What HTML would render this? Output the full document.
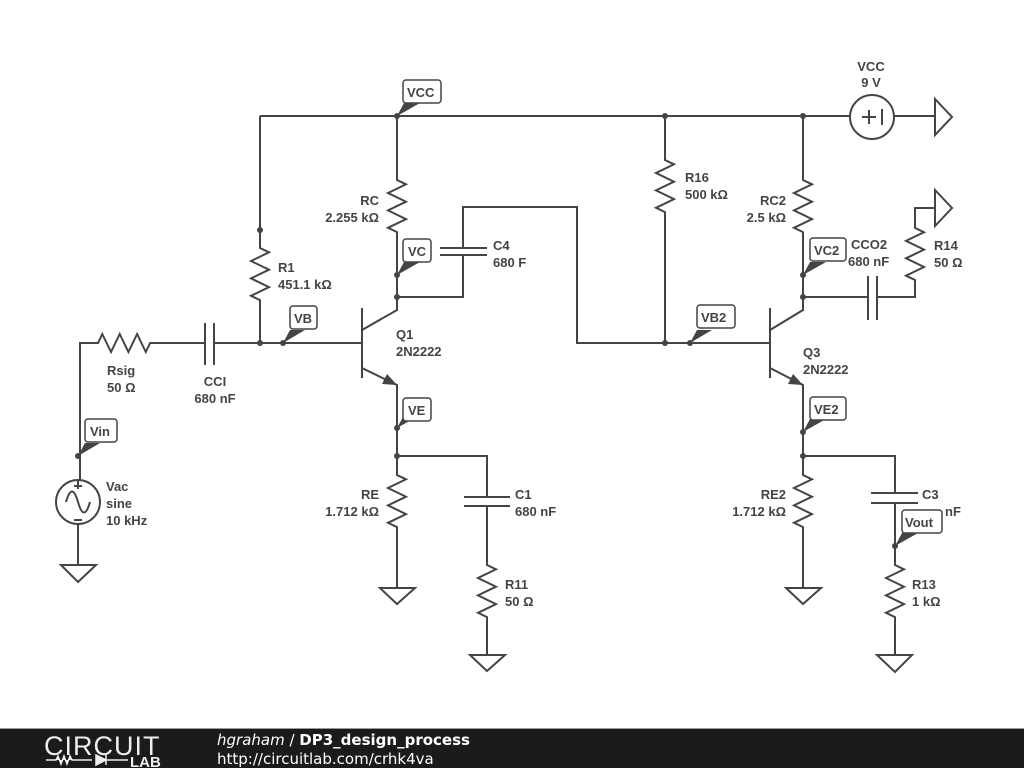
<!DOCTYPE html>
<html><head><meta charset="utf-8"><style>
html,body{margin:0;padding:0;background:#fff;width:1024px;height:768px;overflow:hidden}
svg{display:block}
text{font-family:"Liberation Sans",sans-serif;font-weight:bold;font-size:13px;fill:#444}
</style></head><body>
<svg width="1024" height="768" viewBox="0 0 1024 768">
<g fill="none" stroke="#444" stroke-width="2">
<path d="M260 116 H850 M894 116 H935"/>
<circle cx="872" cy="117" r="22"/>
<path d="M862 117 h14 M869 110 v14 M882 109 v16"/>
<path d="M935 99 L952 117 L935 135 Z"/>
<path d="M260 116 V248 l9 4.3 l-18 8.7 l18 8.7 l-18 8.7 l18 8.7 l-18 8.7 l9 4.3 V343"/>
<path d="M80 480 V343 H98 l4.3 -9 l8.7 18 l8.7 -18 l8.7 18 l8.7 -18 l8.7 18 l4.3 -9 H205 M214 343 H362"/>
<path d="M205 323 V365 M214 323 V365"/>
<circle cx="78" cy="502" r="22"/>
<path d="M66 502 c4 -14 8 -14 12 0 c4 14 8 14 12 0 M78 489 v-8 M74 486 h8 M74 520 h8"/>
<path d="M78 524 V565 M61 565 H96 L78 582 Z"/>
<path d="M397 116 V180 l9 4.3 l-18 8.7 l18 8.7 l-18 8.7 l18 8.7 l-18 8.7 l9 4.3 V310 L362 330"/>
<path d="M362 308 V378 M362 368 L397 385 V475 l9 4.3 l-18 8.7 l18 8.7 l-18 8.7 l18 8.7 l-18 8.7 l9 4.3 V588"/>
<path d="M380 588 H415 L397 604 Z"/>
<path d="M397 297 H463 V255 M463 248 V207 H577 V343 H770"/>
<path d="M440 248 H487 M440 255 H487"/>
<path d="M397 456 H487 V497 M487 506 V565 l9 4.3 l-18 8.7 l18 8.7 l-18 8.7 l18 8.7 l-18 8.7 l9 4.3 V655"/>
<path d="M464 497 H510 M464 506 H510"/>
<path d="M470 655 H505 L487 671 Z"/>
<path d="M665 116 V160 l9 4.3 l-18 8.7 l18 8.7 l-18 8.7 l18 8.7 l-18 8.7 l9 4.3 V343"/>
<path d="M803 116 V180 l9 4.3 l-18 8.7 l18 8.7 l-18 8.7 l18 8.7 l-18 8.7 l9 4.3 V310 L770 330"/>
<path d="M770 308 V378 M770 368 L803 385 V475 l9 4.3 l-18 8.7 l18 8.7 l-18 8.7 l18 8.7 l-18 8.7 l9 4.3 V588"/>
<path d="M786 588 H821 L803 604 Z"/>
<path d="M803 297 H868 M877 297 H915 V280 l-9 -4.3 l18 -8.7 l-18 -8.7 l18 -8.7 l-18 -8.7 l18 -8.7 l-9 -4.3 V208 H935"/>
<path d="M868 276 V320 M877 276 V320"/>
<path d="M935 190 L952 208 L935 226 Z"/>
<path d="M803 456 H895 V493 M895 503 V565 l9 4.3 l-18 8.7 l18 8.7 l-18 8.7 l18 8.7 l-18 8.7 l9 4.3 V655"/>
<path d="M871 493 H918 M871 503 H918"/>
<path d="M877 655 H912 L895 672 Z"/>
</g>
<path d="M397 385 L382 384 L387 374 Z" fill="#444"/>
<path d="M803 385 L788 384 L793 374 Z" fill="#444"/>
<g fill="#444">
<circle cx="397" cy="116" r="3"/><circle cx="665" cy="116" r="3"/><circle cx="803" cy="116" r="3"/>
<circle cx="260" cy="230" r="3"/><circle cx="260" cy="343" r="3"/><circle cx="283" cy="343" r="3"/>
<circle cx="397" cy="275" r="3"/><circle cx="397" cy="297" r="3"/><circle cx="397" cy="428" r="3"/><circle cx="397" cy="456" r="3"/>
<circle cx="665" cy="343" r="3"/><circle cx="690" cy="343" r="3"/>
<circle cx="803" cy="275" r="3"/><circle cx="803" cy="297" r="3"/><circle cx="803" cy="432" r="3"/><circle cx="803" cy="456" r="3"/>
<circle cx="78" cy="456" r="3"/><circle cx="895" cy="546" r="3"/>
</g>
<g fill="#444">
<path d="M397 116 L404 103 L420 103 Z"/>
<path d="M283 343 L290 330 L305 330 Z"/>
<path d="M397 275 L404 262 L420 262 Z"/>
<path d="M397 428 L404 415 L420 415 Z"/>
<path d="M78 456 L85 443 L100 443 Z"/>
<path d="M690 343 L697 330 L712 330 Z"/>
<path d="M803 275 L810 262 L826 262 Z"/>
<path d="M803 432 L810 419 L826 419 Z"/>
<path d="M895 546 L902 533 L918 533 Z"/>
</g>
<g fill="#fff" stroke="#444" stroke-width="1.5">
<rect x="403" y="80" width="38" height="23" rx="3"/>
<rect x="290" y="306" width="27" height="23" rx="3"/>
<rect x="403" y="239" width="28" height="23" rx="3"/>
<rect x="403" y="398" width="28" height="23" rx="3"/>
<rect x="85" y="419" width="32" height="23" rx="3"/>
<rect x="697" y="305" width="38" height="23" rx="3"/>
<rect x="810" y="238" width="36" height="23" rx="3"/>
<rect x="810" y="397" width="36" height="23" rx="3"/>
<rect x="902" y="510" width="40" height="23" rx="3"/>
</g>
<g>
<text x="407" y="97">VCC</text><text x="294" y="323">VB</text><text x="408" y="256">VC</text>
<text x="408" y="415">VE</text><text x="90" y="436">Vin</text><text x="701" y="322">VB2</text>
<text x="814" y="255">VC2</text><text x="814" y="414">VE2</text><text x="905" y="527">Vout</text>
<text x="871" y="71" text-anchor="middle">VCC</text><text x="871" y="87" text-anchor="middle">9 V</text>
<text x="379" y="205" text-anchor="end">RC</text><text x="379" y="222" text-anchor="end">2.255 kΩ</text>
<text x="278" y="272">R1</text><text x="278" y="289">451.1 kΩ</text>
<text x="493" y="250">C4</text><text x="493" y="267">680 F</text>
<text x="396" y="339">Q1</text><text x="396" y="356">2N2222</text>
<text x="107" y="375">Rsig</text><text x="107" y="392">50 Ω</text>
<text x="215" y="386" text-anchor="middle">CCI</text><text x="215" y="403" text-anchor="middle">680 nF</text>
<text x="106" y="491">Vac</text><text x="106" y="508">sine</text><text x="106" y="525">10 kHz</text>
<text x="379" y="499" text-anchor="end">RE</text><text x="379" y="516" text-anchor="end">1.712 kΩ</text>
<text x="515" y="499">C1</text><text x="515" y="516">680 nF</text>
<text x="505" y="589">R11</text><text x="505" y="606">50 Ω</text>
<text x="685" y="182">R16</text><text x="685" y="199">500 kΩ</text>
<text x="786" y="205" text-anchor="end">RC2</text><text x="786" y="222" text-anchor="end">2.5 kΩ</text>
<text x="851" y="249">CCO2</text><text x="848" y="266">680 nF</text>
<text x="934" y="250">R14</text><text x="934" y="267">50 Ω</text>
<text x="803" y="357">Q3</text><text x="803" y="374">2N2222</text>
<text x="786" y="499" text-anchor="end">RE2</text><text x="786" y="516" text-anchor="end">1.712 kΩ</text>
<text x="922" y="499">C3</text><text x="945" y="516">nF</text>
<text x="912" y="589">R13</text><text x="912" y="606">1 kΩ</text>
</g>
<rect x="0" y="729" width="1024" height="39" fill="#1b1b1b"/>
<rect x="0" y="728" width="1024" height="1" fill="#999"/>
<text x="44" y="755" style="font-weight:normal;font-size:27px;fill:#eee;letter-spacing:1px">CIRCUIT</text>
<path d="M46 760 h10 l2 -4 l3 8 l3 -8 l3 8 l3 -8 l2 4 h20 M96 755 v10 l10 -5 z M106 755 v10 M106 760 h22" stroke="#eee" stroke-width="1.5" fill="#eee"/>
<text x="130" y="767" style="font-size:15px;fill:#eee">LAB</text>
<text x="217" y="745" style="font-size:15px;fill:#fff;font-family:'DejaVu Sans',sans-serif"><tspan style="font-style:italic;font-weight:normal">hgraham</tspan><tspan style="font-weight:normal"> / </tspan>DP3_design_process</text>
<text x="217" y="764" style="font-size:15px;fill:#fff;font-weight:normal;font-family:'DejaVu Sans',sans-serif">http://circuitlab.com/crhk4va</text>
</svg>
</body></html>
